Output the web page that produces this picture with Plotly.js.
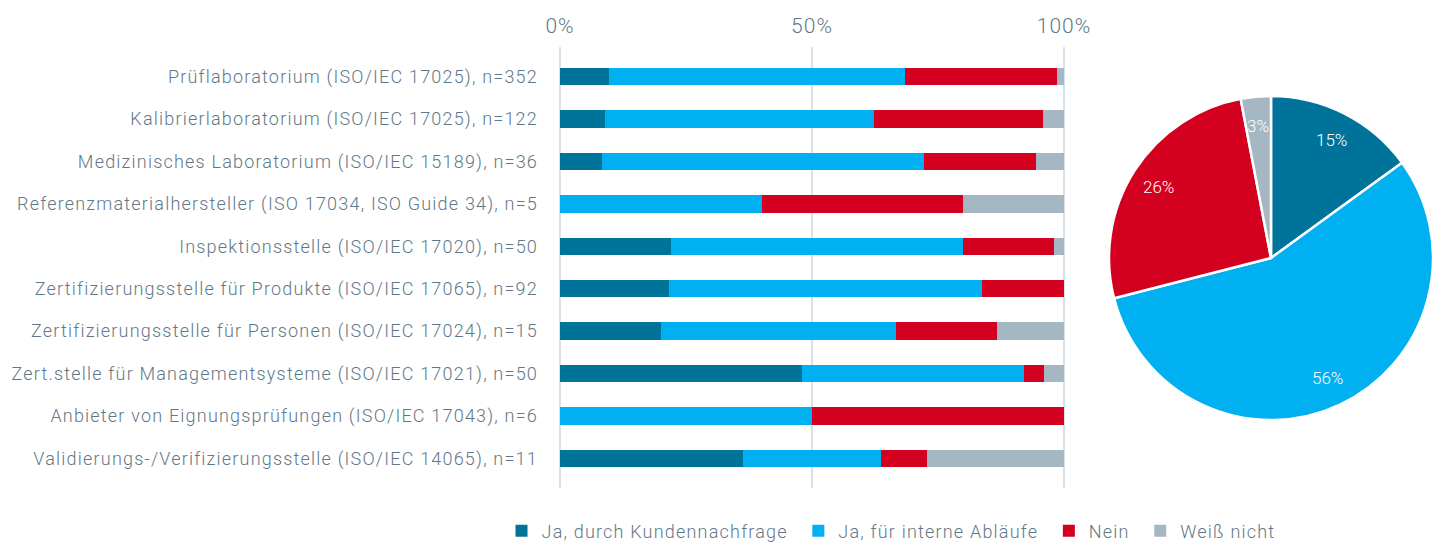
<!DOCTYPE html>
<html>
<head>
<meta charset="utf-8">
<script src="https://cdn.plot.ly/plotly-3.0.1.min.js"></script>
<style>
html,body{margin:0;padding:0;background:#fff;}
#chart{width:1437px;height:542px;}
.ytick text, .legendtext { letter-spacing: 1.2px; }
.xtick text { letter-spacing: 1px; }
</style>
</head>
<body>
<div id="chart"></div>
<script>
const categories = [
  "Prüflaboratorium (ISO/IEC 17025), n=352",
  "Kalibrierlaboratorium (ISO/IEC 17025), n=122",
  "Medizinisches Laboratorium (ISO/IEC 15189), n=36",
  "Referenzmaterialhersteller (ISO 17034, ISO Guide 34), n=5",
  "Inspektionsstelle (ISO/IEC 17020), n=50",
  "Zertifizierungsstelle für Produkte (ISO/IEC 17065), n=92",
  "Zertifizierungsstelle für Personen (ISO/IEC 17024), n=15",
  "Zert.stelle für Managementsysteme (ISO/IEC 17021), n=50",
  "Anbieter von Eignungsprüfungen (ISO/IEC 17043), n=6",
  "Validierungs-/Verifizierungsstelle (ISO/IEC 14065), n=11"
];
const seriesNames = ["Ja, durch Kundennachfrage", "Ja, für interne Abläufe", "Nein", "Weiß nicht"];
const kundennachfrage = [9.7, 9.0, 8.3, 0, 22, 21.7, 20, 48, 0, 36.4];
const interneAblaeufe = [58.8, 53.3, 63.9, 40, 58, 62.0, 46.7, 44, 50, 27.3];
const nein = [30.1, 33.6, 22.2, 40, 18, 16.3, 20, 4, 50, 9.1];
const weissNicht = [1.4, 4.1, 5.6, 20, 2, 0, 13.3, 4, 0, 27.2];
const pieValues = [15, 56, 26, 3];
const tickVals = [0, 50, 100];

const colors = ["#00739a", "#00b0f0", "#d40020", "#a5b7c2"];
const txtColor = "#5f7888";
const fontFam = "Roboto, 'Liberation Sans', sans-serif";

// frame
const W = 1437, H = 542;
const M = {l: 0, r: 0, t: 47, b: 54};
const plotH = H - M.t - M.b;
const pieDomX = [1109 / W, 1433 / W];
const pieDomY = [0.1542, 0.8889];

const seriesData = [kundennachfrage, interneAblaeufe, nein, weissNicht];
const traces = seriesData.map((vals, i) => ({
  type: "bar",
  orientation: "h",
  name: seriesNames[i] + "\u00a0",
  x: vals,
  y: categories,
  width: 0.41,
  marker: {color: colors[i], line: {width: 0}},
  hoverinfo: "x+y+name"
}));

traces.push({
  type: "pie",
  labels: seriesNames,
  values: pieValues,
  sort: false,
  direction: "clockwise",
  rotation: 0,
  marker: {colors: colors, line: {color: "#ffffff", width: 2.5}},
  textinfo: "none",
  showlegend: false,
  domain: {x: pieDomX, y: pieDomY},
  hoverinfo: "label+percent"
});

// pie labels placed along each slice's mid-angle (derived from the values)
const total = pieValues.reduce((a, b) => a + b, 0);
const pieCx = (pieDomX[0] + pieDomX[1]) / 2 * W;
const pieCyPaper = (pieDomY[0] + pieDomY[1]) / 2;
const pieCy = M.t + (1 - pieCyPaper) * plotH;
const pieR = Math.min((pieDomX[1] - pieDomX[0]) * W, (pieDomY[1] - pieDomY[0]) * plotH) / 2;
let cum = 0;
const annotations = pieValues.map(v => {
  const mid = (cum + v / 2) / total * 2 * Math.PI;
  cum += v;
  const px = pieCx + Math.sin(mid) * pieR * 0.82;
  const py = pieCy - Math.cos(mid) * pieR * 0.82;
  return {
    xref: "paper", yref: "paper",
    x: px / W, y: 1 - (py - M.t) / plotH,
    text: v + "%", showarrow: false,
    xanchor: "center", yanchor: "middle",
    font: {color: "#ffffff", size: 17, family: fontFam, weight: 300}
  };
});

const layout = {
  width: W,
  height: H,
  margin: M,
  paper_bgcolor: "#ffffff",
  plot_bgcolor: "#ffffff",
  barmode: "stack",
  font: {family: fontFam, color: txtColor, size: 18, weight: 300},
  showlegend: true,
  annotations: annotations,
  xaxis: {
    domain: [559 / W, 1065 / W],
    side: "top",
    range: [-0.2, 100.2],
    tickvals: tickVals,
    ticktext: tickVals.map(v => v + "%"),
    showgrid: true,
    gridcolor: "#d8e2e8",
    gridwidth: 1.5,
    zeroline: false,
    showline: false,
    ticks: "",
    ticklabelstandoff: 9,
    tickfont: {size: 21, color: txtColor, family: fontFam, weight: 300},
    fixedrange: true
  },
  yaxis: {
    type: "category",
    range: [9.7, -0.7],
    showgrid: false,
    zeroline: false,
    showline: false,
    ticks: "",
    automargin: false,
    ticklabelstandoff: 20,
    tickfont: {size: 18, color: txtColor, family: fontFam, weight: 300},
    fixedrange: true
  },
  legend: {
    orientation: "h",
    xref: "container",
    yref: "container",
    x: 0.349,
    xanchor: "left",
    y: 0.02,
    yanchor: "middle",
    font: {size: 18, color: txtColor, family: fontFam, weight: 300},
    traceorder: "normal",
    itemclick: false
  }
};

Plotly.newPlot("chart", traces, layout, {displayModeBar: false, staticPlot: true});
</script>
</body>
</html>
